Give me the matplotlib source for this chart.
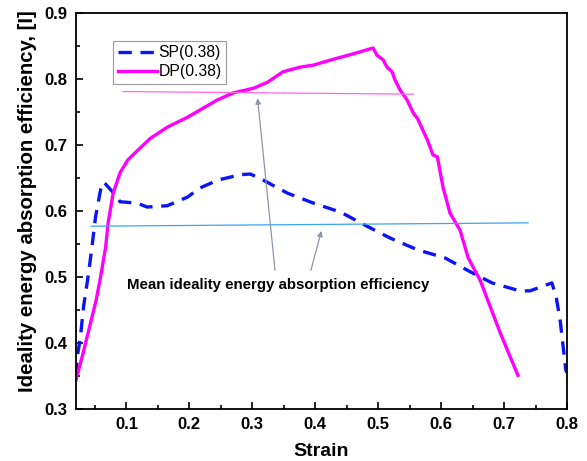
import matplotlib.pyplot as plt
import numpy as np

plt.rcParams['font.family'] = ['Liberation Sans', 'DejaVu Sans']

# SP(0.38) dashed curve
sp_strain = [0.020, 0.022, 0.027, 0.032, 0.040, 0.046, 0.051, 0.059, 0.064,
             0.078, 0.090, 0.117, 0.133, 0.165, 0.197, 0.217, 0.246, 0.281,
             0.297, 0.317, 0.356, 0.397, 0.441, 0.478, 0.519, 0.563, 0.606,
             0.646, 0.681, 0.725, 0.741, 0.776, 0.783, 0.789, 0.798, 0.800]
sp_eff = [0.350, 0.379, 0.409, 0.455, 0.506, 0.551, 0.591, 0.632, 0.644,
          0.629, 0.614, 0.612, 0.606, 0.608, 0.621, 0.635, 0.647, 0.655,
          0.656, 0.647, 0.627, 0.612, 0.598, 0.579, 0.559, 0.541, 0.529,
          0.508, 0.491, 0.479, 0.479, 0.491, 0.468, 0.435, 0.359, 0.355]

# DP(0.38) solid curve
dp_strain = [0.020, 0.030, 0.043, 0.052, 0.059, 0.067, 0.071, 0.079, 0.090,
             0.102, 0.117, 0.138, 0.165, 0.197, 0.217, 0.244, 0.270, 0.302,
             0.324, 0.349, 0.376, 0.397, 0.429, 0.460, 0.492, 0.498, 0.508,
             0.514, 0.522, 0.527, 0.535, 0.546, 0.556, 0.562, 0.578, 0.587,
             0.594, 0.603, 0.614, 0.630, 0.643, 0.662, 0.694, 0.722]
dp_eff = [0.344, 0.380, 0.430, 0.465, 0.500, 0.545, 0.582, 0.627, 0.658,
          0.677, 0.691, 0.710, 0.727, 0.742, 0.753, 0.768, 0.779, 0.786,
          0.795, 0.811, 0.818, 0.821, 0.830, 0.838, 0.847, 0.836, 0.829,
          0.818, 0.811, 0.798, 0.783, 0.768, 0.748, 0.741, 0.708, 0.685,
          0.682, 0.636, 0.597, 0.571, 0.529, 0.495, 0.415, 0.351]

# mean lines
dp_mean_x = [0.095, 0.556]
dp_mean_y = [0.781, 0.777]
sp_mean_x = [0.044, 0.738]
sp_mean_y = [0.577, 0.582]

note = "Mean ideality energy absorption efficiency"

fig = plt.figure(figsize=(5.87, 4.61), dpi=100)
ax = fig.add_axes([0.1295, 0.1128, 0.8365, 0.859])

ax.plot(sp_strain, sp_eff, color='#0a14f5', lw=2.4, dashes=(4, 2.6),
        label='SP(0.38)')
ax.plot(dp_strain, dp_eff, color='#ff00ff', lw=2.4, label='DP(0.38)')
ax.plot(dp_mean_x, dp_mean_y, color='#ff66e0', lw=0.9)
ax.plot(sp_mean_x, sp_mean_y, color='#3aa6ee', lw=0.9)

ax.text(0.1016, 0.488, note, fontsize=10.8, fontweight='bold', va='center')
arrow = dict(arrowstyle='-|>', color='#8c96aa', lw=0.9, mutation_scale=8)
ax.annotate('', xy=(0.308, 0.775), xytext=(0.3365, 0.506), arrowprops=arrow)
ax.annotate('', xy=(0.411, 0.574), xytext=(0.392, 0.506), arrowprops=arrow)

ax.set_xlim(0.02, 0.8)
ax.set_ylim(0.3, 0.9)
ax.set_xticks([0.1, 0.2, 0.3, 0.4, 0.5, 0.6, 0.7, 0.8])
ax.set_xticks(np.arange(0.05, 0.8, 0.1), minor=True)
ax.set_yticks([0.3, 0.4, 0.5, 0.6, 0.7, 0.8, 0.9])
ax.set_yticks(np.arange(0.35, 0.9, 0.1), minor=True)
ax.tick_params(which='both', direction='in', width=1.2, labelsize=12, pad=6)
ax.tick_params(which='major', length=5)
ax.tick_params(which='minor', length=3)
for lab in ax.get_xticklabels() + ax.get_yticklabels():
    lab.set_fontweight('bold')
for s in ax.spines.values():
    s.set_linewidth(1.3)

ax.set_xlabel('Strain', fontsize=14, fontweight='bold', labelpad=8)
ax.set_ylabel('Ideality energy absorption efficiency, [I]', fontsize=14.7,
              fontweight='bold')
ax.yaxis.set_label_coords(-0.08, 0.525)

leg = ax.legend(loc='upper left', bbox_to_anchor=(0.075, 0.93), fontsize=11.3,
                fancybox=False, edgecolor='#808080', handlelength=2.5,
                borderpad=0.3, labelspacing=0.25, handletextpad=0.1,
                borderaxespad=0)
leg.get_frame().set_linewidth(0.8)

fig.savefig('out.png', dpi=100)
